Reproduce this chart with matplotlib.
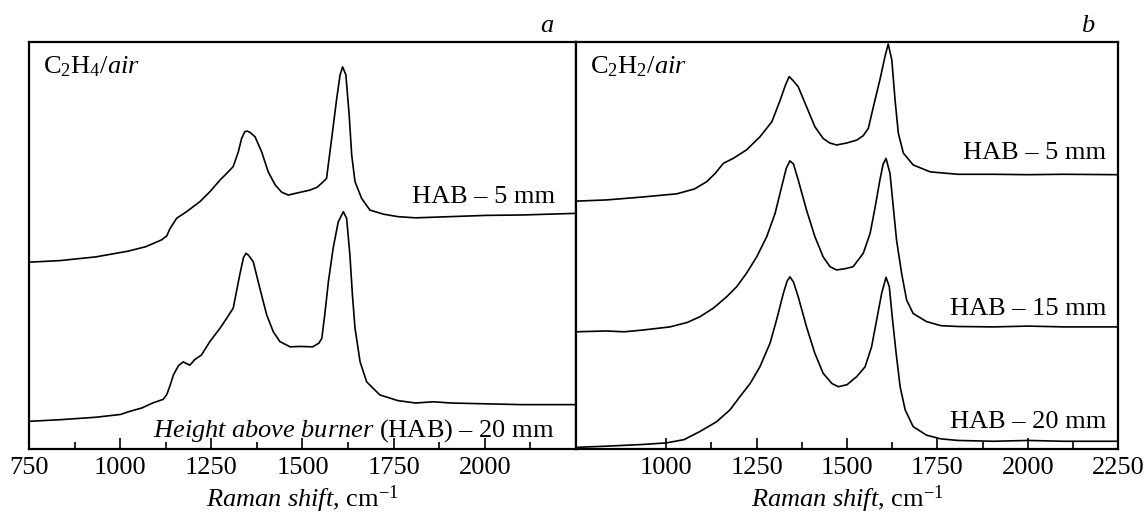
import matplotlib
matplotlib.use("Agg")
import matplotlib.pyplot as plt
from matplotlib.ticker import FixedLocator

plt.rcParams["font.family"] = ["Liberation Serif", "DejaVu Serif"]
plt.rcParams["mathtext.fontset"] = "custom"
plt.rcParams["mathtext.rm"] = "Liberation Serif"
plt.rcParams["mathtext.it"] = "Liberation Serif:italic"
plt.rcParams["mathtext.bf"] = "Liberation Serif:bold"

# Raman spectra (wavenumber in cm^-1, intensity in arbitrary units, offset per curve)
# panel a: C2H4/air
a5_x = [750, 836, 933, 1021, 1070, 1114, 1128, 1137, 1155, 1182, 1219, 1246, 1274, 1292,
        1310, 1324, 1333, 1342, 1349, 1356, 1370, 1388, 1406, 1425, 1443, 1461, 1490, 1520,
        1540, 1555, 1566, 1580, 1594, 1603, 1610, 1619, 1628, 1635, 1644, 1662, 1685, 1722,
        1761, 1810, 1907, 2004, 2102, 2250]
a5_y = [45.9, 46.3, 47.2, 48.6, 49.7, 51.4, 52.4, 54.2, 56.7, 58.3, 60.8, 63.2, 66.1, 67.7,
        69.4, 73.0, 76.3, 78.0, 78.1, 77.8, 76.7, 73.0, 68.1, 64.9, 63.1, 62.4, 63.0, 63.6,
        64.3, 65.5, 66.5, 76.3, 86.2, 91.9, 93.9, 91.9, 82.1, 72.2, 65.7, 61.6, 58.7, 57.7,
        57.1, 56.8, 57.1, 57.4, 57.5, 57.9]

a20_x = [750, 836, 933, 1002, 1021, 1060, 1089, 1118, 1128, 1138, 1146, 1160, 1173, 1191,
         1205, 1223, 1246, 1274, 1292, 1310, 1328, 1338, 1345, 1352, 1365, 1383, 1402, 1420,
         1438, 1466, 1495, 1528, 1545, 1553, 1561, 1571, 1584, 1598, 1612, 1621, 1630, 1637,
         1644, 1658, 1676, 1712, 1761, 1810, 1859, 1907, 2004, 2102, 2250]
a20_y = [6.8, 7.2, 7.8, 8.5, 9.1, 10.1, 11.3, 12.2, 13.4, 15.9, 18.2, 20.5, 21.4, 20.6,
         22.0, 23.1, 26.4, 29.7, 32.1, 34.6, 42.8, 47.0, 48.1, 47.6, 46.0, 39.5, 32.9, 28.8,
         26.4, 25.1, 25.2, 25.1, 26.0, 27.2, 32.9, 41.1, 49.3, 55.8, 58.3, 56.7, 47.7, 37.8,
         29.7, 21.4, 16.5, 13.3, 11.9, 11.3, 11.6, 11.3, 11.1, 10.9, 10.9]

# panel b: C2H2/air
b5_x = [750, 835, 932, 1029, 1078, 1112, 1135, 1158, 1185, 1222, 1259, 1292, 1315, 1330,
        1340, 1350, 1365, 1388, 1411, 1434, 1452, 1471, 1500, 1527, 1545, 1559, 1573, 1591,
        1605, 1614, 1624, 1633, 1642, 1656, 1683, 1730, 1807, 1905, 2002, 2099, 2250]
b5_y = [60.9, 61.2, 61.9, 62.7, 63.9, 65.7, 67.7, 70.2, 71.4, 73.5, 76.7, 80.4, 85.7, 89.5,
        91.5, 90.6, 89.0, 84.1, 79.2, 76.3, 75.2, 74.7, 75.2, 75.9, 77.0, 78.8, 84.1, 90.7,
        96.4, 99.5, 95.6, 85.7, 77.6, 72.7, 69.8, 68.1, 67.5, 67.5, 67.4, 67.5, 67.4]

b15_x = [750, 835, 883, 932, 1010, 1058, 1093, 1130, 1167, 1195, 1222, 1250, 1278, 1301,
         1319, 1332, 1342, 1352, 1365, 1388, 1411, 1434, 1453, 1471, 1495, 1517, 1545, 1564,
         1578, 1591, 1600, 1608, 1619, 1628, 1637, 1651, 1665, 1683, 1720, 1760, 1807, 1905,
         2002, 2099, 2250]
b15_y = [28.8, 29.0, 28.8, 29.2, 30.0, 31.1, 32.5, 34.6, 37.4, 39.9, 43.2, 47.2, 52.2, 57.9,
         64.4, 69.0, 70.8, 70.0, 66.1, 58.7, 52.2, 47.2, 44.8, 44.0, 44.3, 44.8, 48.1, 53.0,
         59.5, 66.1, 70.0, 71.4, 67.7, 59.5, 51.4, 43.2, 36.6, 33.3, 31.3, 30.3, 30.1, 30.0,
         30.2, 30.0, 30.0]

b20_x = [750, 835, 932, 1000, 1049, 1093, 1139, 1176, 1204, 1232, 1259, 1287, 1305, 1324,
         1334, 1342, 1352, 1365, 1388, 1411, 1434, 1458, 1476, 1500, 1527, 1550, 1568, 1582,
         1596, 1608, 1617, 1626, 1636, 1647, 1661, 1683, 1720, 1759, 1807, 1905, 2002, 2099,
         2250]
b20_y = [0.4, 0.7, 1.1, 1.5, 2.3, 4.3, 6.7, 9.6, 12.9, 16.1, 20.2, 26.0, 31.7, 38.3,
         41.2, 42.3, 41.0, 37.4, 30.0, 23.5, 18.6, 16.1, 15.3, 15.8, 17.8, 20.2, 25.1, 31.7,
         38.3, 42.2, 39.9, 31.7, 23.5, 15.3, 9.6, 5.5, 3.4, 2.5, 2.1, 1.9, 2.1, 1.9,
         1.9]

left_ticks = [750, 1000, 1250, 1500, 1750, 2000]
right_ticks = [1000, 1250, 1500, 1750, 2000, 2250]
left_minor = [875, 1125, 1375, 1625, 1875, 2125]
right_minor = [1125, 1375, 1625, 1875, 2125]

fs = 19
fig = plt.figure(figsize=(11.46, 5.18), dpi=100)
ax1 = fig.add_axes([0.0253, 0.1332, 0.4773, 0.7857])
ax2 = fig.add_axes([0.5026, 0.1332, 0.4730, 0.7857])


def style(ax, major, minor):
    ax.set_xlim(750, 2250)
    ax.set_ylim(0, 100)
    ax.set_yticks([])
    ax.xaxis.set_major_locator(FixedLocator(major))
    ax.xaxis.set_minor_locator(FixedLocator(minor))
    ax.tick_params(axis="x", which="major", direction="in", length=8, width=1.2,
                   labelsize=fs, pad=6, top=False)
    ax.tick_params(axis="x", which="minor", direction="in", length=5, width=1.2, top=False)
    for s in ax.spines.values():
        s.set_linewidth(1.6)
    ax.set_xlabel(r"$\it{Raman\ shift}$, cm$^{-1}$", fontsize=fs, labelpad=3)


style(ax1, left_ticks, left_minor)
style(ax2, right_ticks, right_minor)

for x, y in [(a5_x, a5_y), (a20_x, a20_y)]:
    ax1.plot(x, y, color="black", lw=1.2)
for x, y in [(b5_x, b5_y), (b15_x, b15_y), (b20_x, b20_y)]:
    ax2.plot(x, y, color="black", lw=1.2)

ax1.text(0.026, 0.923, r"C$_2$H$_4$/$\it{air}$", transform=ax1.transAxes, fontsize=fs,
         ha="left", va="baseline")
ax2.text(0.025, 0.923, r"C$_2$H$_2$/$\it{air}$", transform=ax2.transAxes, fontsize=fs,
         ha="left", va="baseline")

ax1.text(2192, 60.4, "HAB – 5 mm", fontsize=fs, ha="right", va="baseline")
ax1.text(2192, 3.1, r"$\it{Height\ above\ burner}$ (HAB) – 20 mm", fontsize=fs,
         ha="right", va="baseline")
ax2.text(2217, 71.3, "HAB – 5 mm", fontsize=fs, ha="right", va="baseline")
ax2.text(2217, 33.0, "HAB – 15 mm", fontsize=fs, ha="right", va="baseline")
ax2.text(2217, 5.2, "HAB – 20 mm", fontsize=fs, ha="right", va="baseline")

ax1.text(0.958, 1.0246, "a", transform=ax1.transAxes, fontsize=fs, style="italic",
         ha="right", va="baseline")
ax2.text(0.957, 1.0246, "b", transform=ax2.transAxes, fontsize=fs, style="italic",
         ha="right", va="baseline")

fig.savefig("out.png", dpi=100)
